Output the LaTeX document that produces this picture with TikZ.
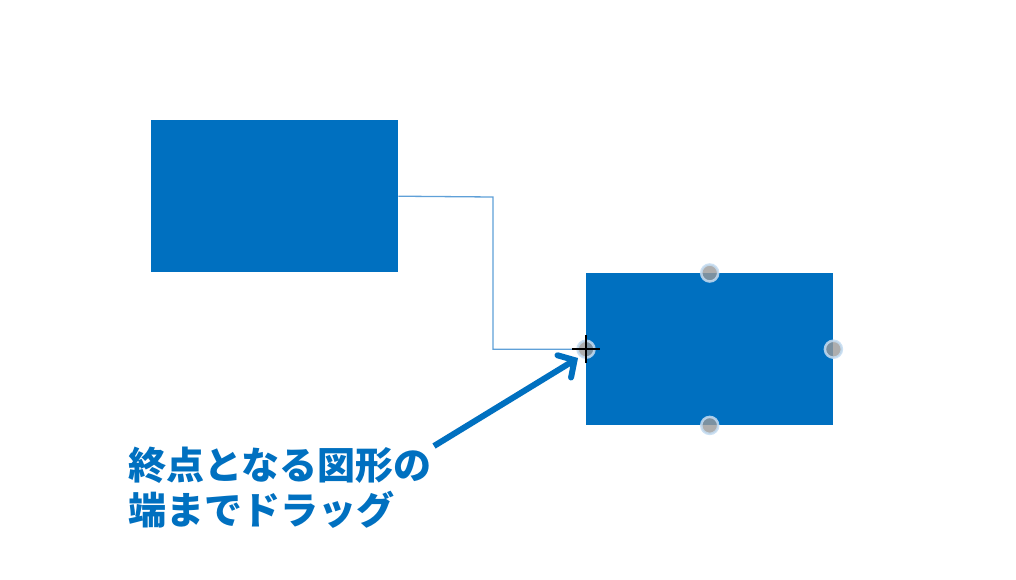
\documentclass[tikz,border=0pt]{standalone}
\usepackage{fontspec}
\newfontfamily\cjk{Noto Sans CJK JP}
\usetikzlibrary{arrows.meta}
\definecolor{mainblue}{HTML}{0070C0}
\definecolor{linkblue}{HTML}{5FA0D8}
\definecolor{handlegray}{HTML}{9A9A9A}
\definecolor{handlerim}{HTML}{C4DCF2}
\begin{document}
\begin{tikzpicture}[x=1pt,y=-1pt,
  shapebox/.style={fill=mainblue,draw=none},
  handle/.style={circle,minimum size=17pt,inner sep=0pt,fill=handlegray,fill opacity=0.8,draw=handlerim,line width=2.5pt,draw opacity=0.85},
  label/.style={font=\cjk\bfseries\fontsize{38}{45}\selectfont,text=mainblue,align=left,anchor=north west,inner sep=0pt}]
\useasboundingbox[fill=white] (0,0) rectangle (1016,579);
\node[shapebox,minimum width=247pt,minimum height=152pt,inner sep=0pt,anchor=north west] (a) at (151,120) {};
\node[shapebox,minimum width=247pt,minimum height=152pt,inner sep=0pt,anchor=north west] (b) at (586,273) {};
\draw[linkblue,line width=1.3pt] (a.east) -- (493,197) |- (b.west);
\node[handle] (h1) at (b.north) {};
\node[handle] (h2) at (b.east) {};
\node[handle] (h3) at (b.south) {};
\node[handle] (h4) at (b.west) {};
\draw[black,line width=1.5pt] ([xshift=-14pt]b.west) -- ([xshift=14pt]b.west);
\draw[black,line width=1.5pt] ([yshift=-14pt]b.west) -- ([yshift=14pt]b.west);
\node[label] (t) at (128,447) {終点となる図形の\\端までドラッグ};
\coordinate (s) at (434,446);
\coordinate (e) at (578,358);
\draw[mainblue,line width=6pt,-{Straight Barb[length=12pt,width=26pt,line cap=round]}] (s) -- (e);
\end{tikzpicture}
\end{document}
